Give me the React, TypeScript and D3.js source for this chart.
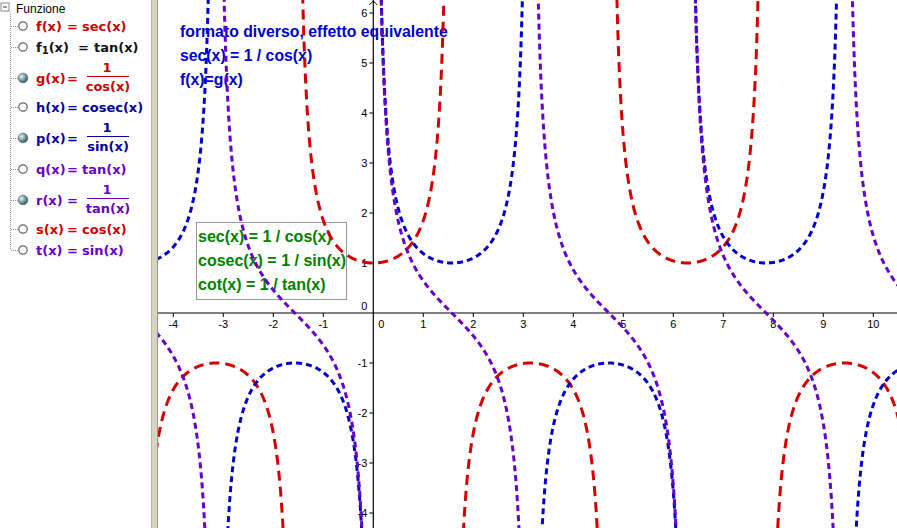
import React from "react";
import * as d3 from "d3";

const W = 897;
const H = 528;

// Graph window (math units)
const xTicks = [-4, -3, -2, -1, 1, 2, 3, 4, 5, 6, 7, 8, 9, 10];
const yTicks = [-4, -3, -2, -1, 1, 2, 3, 4, 5, 6];

// Plotted (visible) functions
const curveNames = ["g", "p", "r"];
const curveColors = ["#d40000", "#0000cc", "#6600cc"];
const curveDash = ["10,6", "6,4", "6,4"];
const curveFns: ((x: number) => number)[] = [
  (x) => 1 / Math.cos(x),
  (x) => 1 / Math.sin(x),
  (x) => 1 / Math.tan(x),
];

// Algebra panel entries
const panelNames = ["f(x)", "f1(x)", "g(x)", "h(x)", "p(x)", "q(x)", "r(x)", "s(x)", "t(x)"];
const panelRhs = ["sec(x)", "tan(x)", "1|cos(x)", "cosec(x)", "1|sin(x)", "tan(x)", "1|tan(x)", "cos(x)", "sin(x)"];
const panelColors = ["#cc0000", "#111111", "#cc0000", "#000099", "#000099", "#6600cc", "#6600cc", "#cc0000", "#6600cc"];
const panelVisible = [false, false, true, false, true, false, true, false, false];
const panelY = [26, 47, 78, 107, 138, 169, 200, 229, 250];

const topTexts = ["formato diverso, effetto equivalente", "sec(x) = 1 / cos(x)", "f(x)=g(x)"];
const boxTexts = ["sec(x) = 1 / cos(x)", "cosec(x) = 1 / sin(x)", "cot(x) = 1 / tan(x)"];

const xScale = d3.scaleLinear().domain([0, 1]).range([373.3, 423.3]);
const yScale = d3.scaleLinear().domain([0, 1]).range([313, 263]);
const GX0 = 158;

function segments(fn: (x: number) => number) {
  const x0 = xScale.invert(GX0 - 2);
  const x1 = xScale.invert(W + 2);
  const segs: [number, number][][] = [];
  let cur: [number, number][] = [];
  for (let t = x0; t <= x1; t += 0.002) {
    const v = fn(t);
    if (!isFinite(v) || Math.abs(v) > 14) {
      if (cur.length > 1) segs.push(cur);
      cur = [];
    } else {
      cur.push([t, v]);
    }
  }
  if (cur.length > 1) segs.push(cur);
  return segs;
}

export default function App() {
  const line = d3
    .line<[number, number]>()
    .x((d) => xScale(d[0]))
    .y((d) => yScale(d[1]));
  const ox = xScale(0);
  const oy = yScale(0);
  const tickFont = "Liberation Sans, Arial, sans-serif";
  const mathFont = "DejaVu Sans, Verdana, sans-serif";

  return (
    <svg
      width={W}
      height={H}
      style={{ position: "absolute", left: 0, top: 0, background: "#fff" }}
    >
      <defs>
        <clipPath id="gclip">
          <rect x={GX0} y={0} width={W - GX0} height={H} />
        </clipPath>
        <radialGradient id="ball" cx="35%" cy="35%" r="70%">
          <stop offset="0%" stopColor="#e8f4f4" />
          <stop offset="50%" stopColor="#7fa3a8" />
          <stop offset="100%" stopColor="#2f4f58" />
        </radialGradient>
      </defs>
      <rect x={0} y={0} width={W} height={H} fill="#fff" />

      {/* Algebra panel */}
      <g>
        <rect x={1} y={3} width={8} height={8} fill="#fff" stroke="#888" strokeWidth={1} />
        <line x1={3} x2={7} y1={7} y2={7} stroke="#333" />
        <text x={16} y={13} fontFamily={tickFont} fontSize={12} fill="#000">
          Funzione
        </text>
        <line x1={10.5} x2={10.5} y1={12} y2={250} stroke="#999" strokeDasharray="1,1" />
        {panelNames.map((n, i) => {
          const cy = panelY[i];
          const col = panelColors[i];
          const rhs = panelRhs[i];
          const frac = rhs.includes("|");
          const [num, den] = rhs.split("|");
          const isF1 = n.startsWith("f1");
          return (
            <g key={n}>
              <line x1={11} x2={18} y1={cy + 0.5} y2={cy + 0.5} stroke="#999" strokeDasharray="1,1" />
              {panelVisible[i] ? (
                <circle cx={23} cy={cy} r={4.8} fill="url(#ball)" stroke="#556" strokeWidth={0.6} />
              ) : (
                <circle cx={23} cy={cy} r={4.2} fill="#fff" stroke="#666" strokeWidth={1.2} />
              )}
              <text x={36} y={cy + 4.5} fontFamily={mathFont} fontWeight="bold" fontSize={13} fill={col}>
                {isF1 ? (
                  <>
                    f<tspan fontSize={10} dy={2}>1</tspan>
                    <tspan dy={-2}>(x)</tspan>
                  </>
                ) : (
                  n
                )}
              </text>
              <text
                x={isF1 ? 78 : 67}
                y={cy + 4.5}
                fontFamily={mathFont}
                fontWeight="bold"
                fontSize={13}
                fill={col}
              >
                =
              </text>
              {frac ? (
                <g>
                  <text x={107} y={cy - 6} textAnchor="middle" fontFamily={mathFont} fontWeight="bold" fontSize={13} fill={col}>
                    {num}
                  </text>
                  <line x1={87} x2={129} y1={cy - 1.5} y2={cy - 1.5} stroke={col} strokeWidth={1} />
                  <text x={108} y={cy + 13} textAnchor="middle" fontFamily={mathFont} fontWeight="bold" fontSize={13} fill={col}>
                    {den}
                  </text>
                </g>
              ) : (
                <text
                  x={isF1 ? 94 : 82}
                  y={cy + 4.5}
                  fontFamily={mathFont}
                  fontWeight="bold"
                  fontSize={13}
                  fill={col}
                >
                  {rhs}
                </text>
              )}
            </g>
          );
        })}
      </g>

      {/* divider */}
      <rect x={151} y={0} width={6} height={H} fill="#d8d4c4" />
      <line x1={151.5} x2={151.5} y1={0} y2={H} stroke="#bbb6a2" />
      <line x1={157.5} x2={157.5} y1={0} y2={H} stroke="#9c9888" />

      {/* Graphics view */}
      <g clipPath="url(#gclip)">
        {/* axes */}
        <line x1={GX0} x2={W} y1={oy} y2={oy} stroke="#000" strokeWidth={1.2} />
        <line x1={ox} x2={ox} y1={0} y2={H} stroke="#000" strokeWidth={1.2} />
        <path d={`M${ox - 4},${5} L${ox},${1} L${ox + 4},${5}`} fill="none" stroke="#000" strokeWidth={1} />
        {xTicks.map((t) => (
          <g key={"x" + t}>
            <line x1={xScale(t)} x2={xScale(t)} y1={oy} y2={oy + 4} stroke="#000" />
            <text x={xScale(t)} y={oy + 15} textAnchor="middle" fontFamily={tickFont} fontSize={11} fill="#000">
              {t < 0 ? "-" + Math.abs(t) : t}
            </text>
          </g>
        ))}
        {yTicks.map((t) => (
          <g key={"y" + t}>
            <line x1={ox - 4} x2={ox} y1={yScale(t)} y2={yScale(t)} stroke="#000" />
            <text x={ox - 6} y={yScale(t) + 4} textAnchor="end" fontFamily={tickFont} fontSize={11} fill="#000">
              {t < 0 ? "-" + Math.abs(t) : t}
            </text>
          </g>
        ))}
        <text x={ox - 6} y={oy - 3} textAnchor="end" fontFamily={tickFont} fontSize={11} fill="#000">0</text>
        <text x={ox + 5} y={oy + 15} fontFamily={tickFont} fontSize={11} fill="#000">0</text>

        {/* texts */}
        {topTexts.map((t, i) => (
          <text key={t} x={180} y={37 + i * 24} fontFamily={tickFont} fontWeight="bold" fontSize={15.8} fill="#0000cc">
            {t}
          </text>
        ))}
        <rect x={196.5} y={222.5} width={150} height={77} fill="none" stroke="#999" strokeWidth={1} />
        {boxTexts.map((t, i) => (
          <text key={t} x={198} y={242 + i * 24} fontFamily={tickFont} fontWeight="bold" fontSize={16} fill="#008000">
            {t}
          </text>
        ))}

        {/* curves */}
        {curveNames.map((n, i) =>
          segments(curveFns[i]).map((s, j) => (
            <path
              key={n + j}
              d={line(s) || ""}
              fill="none"
              stroke={curveColors[i]}
              strokeWidth={3}
              strokeDasharray={curveDash[i]}
            />
          ))
        )}
      </g>
    </svg>
  );
}
